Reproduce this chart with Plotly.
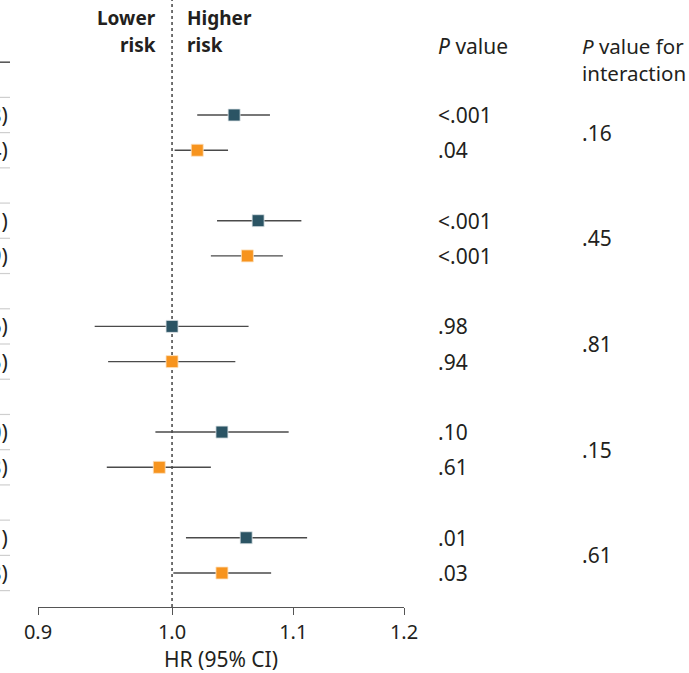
import plotly.graph_objects as go
import math

# ---- data ----
groups = ["Group 1", "Group 2", "Group 3", "Group 4", "Group 5"]
teal_hr = [1.05, 1.07, 1.00, 1.04, 1.06]
teal_lo = [1.02, 1.036, 0.941, 0.987, 1.011]
teal_hi = [1.08, 1.107, 1.062, 1.096, 1.112]
orange_hr = [1.02, 1.061, 1.00, 0.99, 1.04]
orange_lo = [1.002, 1.031, 0.951, 0.950, 1.001]
orange_hi = [1.045, 1.091, 1.051, 1.031, 1.081]
teal_p = ["<.001", "<.001", ".98", ".10", ".01"]
orange_p = [".04", "<.001", ".94", ".61", ".03"]
interaction_p = [".16", ".45", ".81", ".15", ".61"]
x_ticks = [0.9, 1.0, 1.1, 1.2]
x_tick_labels = ["0.9", "1.0", "1.1", "1.2"]

TEAL = "#2b5464"
ORANGE = "#f7941e"
FONT = "Noto Sans"
TXT = "#231f20"

W, H = 689, 673
L, R = 38, 404          # plot area x pixels
T, B = 0, 607           # plot area y pixels
UNIT = 35.23            # px per row unit
ROW0 = 115              # pixel y of first row

teal_y = [g * 3 for g in range(len(groups))]
orange_y = [g * 3 + 1 for g in range(len(groups))]

y_top = (T - ROW0) / UNIT
y_bot = (B - ROW0) / UNIT

def px_x(p):
    return (p - L) / (R - L)

def px_y(p):
    return 1 - (p - T) / (B - T)

def ci_line(lo, hi, ys):
    xs, yy = [], []
    for a, b, y in zip(lo, hi, ys):
        xs += [a, b, None]
        yy += [y, y, None]
    return xs, yy

fig = go.Figure()
for lo, hi, ys in [(teal_lo, teal_hi, teal_y), (orange_lo, orange_hi, orange_y)]:
    xs, yy = ci_line(lo, hi, ys)
    fig.add_trace(go.Scatter(x=xs, y=yy, mode="lines",
                             line=dict(color="#4a4a4a", width=1.4),
                             hoverinfo="skip", showlegend=False))
fig.add_trace(go.Scatter(x=teal_hr, y=teal_y, mode="markers",
                         marker=dict(symbol="square", size=12, color=TEAL,
                                     line=dict(color="#dfe6e8", width=0.8)),
                         showlegend=False))
fig.add_trace(go.Scatter(x=orange_hr, y=orange_y, mode="markers",
                         marker=dict(symbol="square", size=12, color=ORANGE,
                                     line=dict(color="#fde3c4", width=0.8)),
                         showlegend=False))

shapes = []
# reference line at HR = 1
shapes.append(dict(type="line", xref="x", yref="paper", x0=1.0, x1=1.0, y0=0, y1=1,
                   line=dict(color="#444444", width=1.5, dash="dot"), layer="below"))
# header rule at the left
shapes.append(dict(type="line", xref="paper", yref="y", x0=px_x(0), x1=px_x(10),
                   y0=-1.5, y1=-1.5, line=dict(color="#333333", width=1.3)))
# row separators at the left
for g in range(len(groups)):
    for off in (-0.5, 0.5, 1.5):
        yv = g * 3 + off
        shapes.append(dict(type="line", xref="paper", yref="y", x0=px_x(0), x1=px_x(10),
                           y0=yv, y1=yv, line=dict(color="#cfcfcf", width=1.2)))

ann = []
fs = 21
def text(x, y, s, xanchor="left", size=fs, yref="y", bold=False):
    ann.append(dict(x=x, y=y, xref="paper", yref=yref, text=(f"<b>{s}</b>" if bold else s),
                    showarrow=False, xanchor=xanchor, yanchor="middle", align=xanchor,
                    font=dict(family=FONT, size=size, color=TXT)))

# HR (95% CI) labels, mostly cropped at the left edge (as in the reference)
for g in range(len(groups)):
    text(px_x(10), teal_y[g], f"{teal_hr[g]:.2f} ({teal_lo[g]:.2f}-{teal_hi[g]:.2f})", xanchor="right")
    text(px_x(10), orange_y[g], f"{orange_hr[g]:.2f} ({orange_lo[g]:.2f}-{orange_hi[g]:.2f})", xanchor="right")
    text(px_x(436), teal_y[g], teal_p[g])
    text(px_x(436), orange_y[g], orange_p[g])
    text(px_x(580), g * 3 + 0.5, interaction_p[g])

# headers
text(px_x(436), px_y(46), "<i>P</i> value", yref="paper")
text(px_x(580), px_y(46), "<i>P</i> value for", yref="paper", size=20.5)
text(px_x(580), px_y(73), "interaction", yref="paper", size=20.5)
text(px_x(158), px_y(18), "Lower", xanchor="right", yref="paper", bold=True, size=19)
text(px_x(158), px_y(45), "risk", xanchor="right", yref="paper", bold=True, size=19)
text(px_x(185), px_y(18), "Higher", yref="paper", bold=True, size=19)
text(px_x(185), px_y(45), "risk", yref="paper", bold=True, size=19)
# axis title, centred under the axis
ann.append(dict(x=0.5, y=px_y(659), xref="paper", yref="paper", text="HR (95% CI)",
                showarrow=False, xanchor="center", yanchor="middle",
                font=dict(family=FONT, size=21, color=TXT)))

fig.update_layout(
    width=W, height=H,
    margin=dict(l=L, r=W - R, t=T, b=H - B, pad=0),
    paper_bgcolor="white", plot_bgcolor="white",
    shapes=shapes, annotations=ann,
    xaxis=dict(type="log", range=[math.log10(0.9), math.log10(1.2)],
               tickvals=x_ticks, ticktext=x_tick_labels,
               showgrid=False, zeroline=False, showline=True,
               linecolor="#555555", linewidth=1.2,
               ticks="outside", ticklen=7, tickcolor="#555555", tickwidth=1.2,
               tickfont=dict(family=FONT, size=20, color=TXT)),
    yaxis=dict(range=[y_bot, y_top], showgrid=False, zeroline=False,
               showticklabels=False, showline=False, ticks=""),
)

fig.write_html("out.html", config={"displayModeBar": False},
               post_script="document.body.style.margin='0';document.body.style.overflow='hidden';")
